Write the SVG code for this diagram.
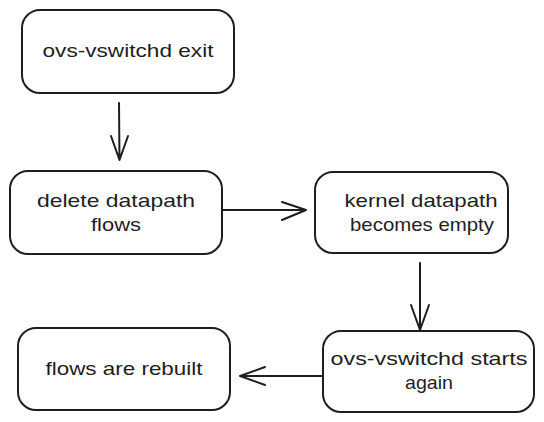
<svg xmlns="http://www.w3.org/2000/svg" width="544" height="422" viewBox="0 0 544 422">
<style>
.box{fill:#ffffff;stroke:#1e1e1e;stroke-width:2;}
.lbl{font-family:"Liberation Sans","Noto Sans",sans-serif;font-size:19px;fill:#1e1e1e;text-anchor:middle;}
.edge{fill:none;stroke:#1e1e1e;stroke-width:2;stroke-linecap:round;stroke-linejoin:round;}
</style>
<rect width="544" height="422" fill="#ffffff"/>
<g id="connectors">
<path class="edge" d="M119 103 L119.5 160 M111 136 L119.5 160 L128 136"/>
<path class="edge" d="M222 210 L306 210 M282 202 L306 210 L282 220"/>
<path class="edge" d="M420 263 L420 330 M411 305 L420 330 L429 305"/>
<path class="edge" d="M328 376 L240 376 M265 367 L240 376 L265 385"/>
</g>
<g id="node-exit">
<rect class="box" x="22" y="10" width="212" height="83" rx="18"/>
<text class="lbl" x="128" y="57" textLength="171" lengthAdjust="spacingAndGlyphs">ovs-vswitchd exit</text>
</g>
<g id="node-delete">
<rect class="box" x="10" y="171" width="212" height="83" rx="18"/>
<text class="lbl" x="116" y="207" textLength="158" lengthAdjust="spacingAndGlyphs">delete datapath</text>
<text class="lbl" x="116" y="231" textLength="50" lengthAdjust="spacingAndGlyphs">flows</text>
</g>
<g id="node-empty">
<rect class="box" x="315" y="172" width="193" height="81" rx="18"/>
<text class="lbl" x="421" y="207" textLength="153" lengthAdjust="spacingAndGlyphs">kernel datapath</text>
<text class="lbl" x="422" y="231" textLength="144" lengthAdjust="spacingAndGlyphs">becomes empty</text>
</g>
<g id="node-starts">
<rect class="box" x="323" y="331" width="211" height="81" rx="18"/>
<text class="lbl" x="429" y="365" textLength="197" lengthAdjust="spacingAndGlyphs">ovs-vswitchd starts</text>
<text class="lbl" x="429" y="389" textLength="48" lengthAdjust="spacingAndGlyphs">again</text>
</g>
<g id="node-rebuilt">
<rect class="box" x="18" y="328" width="212" height="82" rx="18"/>
<text class="lbl" x="124" y="375" textLength="157" lengthAdjust="spacingAndGlyphs">flows are rebuilt</text>
</g>
</svg>
